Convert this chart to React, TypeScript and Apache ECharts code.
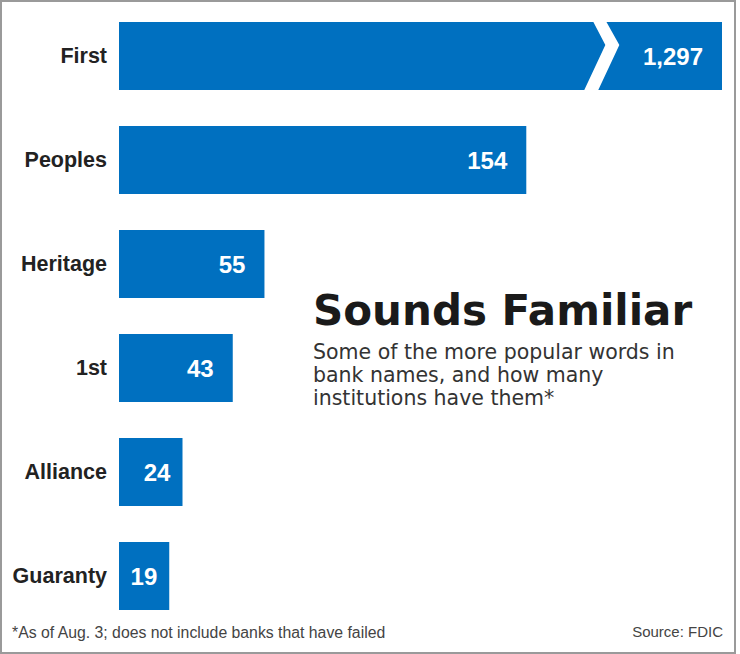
import React, { useEffect, useRef } from "react";
import * as echarts from "echarts";

const CATEGORIES = ["First", "Peoples", "Heritage", "1st", "Alliance", "Guaranty"];
const COUNTS = [1297, 154, 55, 43, 24, 19];
const AXIS_MAX = 228; // visible end of the scale (the First bar is broken)
const BREAK_AT = 182; // value where the First bar is broken
const TITLE = "Sounds Familiar";
const SUBTITLE = "Some of the more popular words in\nbank names, and how many\ninstitutions have them*";
const FOOTNOTE = "*As of Aug. 3; does not include banks that have failed";
const SOURCE = "Source: FDIC";

const BLUE = "#0070c0";
const SANS = "'Liberation Sans', Arial, sans-serif";
const DEJAVU = "'DejaVu Sans', sans-serif";

export default function App() {
  const ref = useRef<HTMLDivElement>(null);

  useEffect(() => {
    document.body.style.margin = "0";
    const chart = echarts.init(ref.current!, null, { renderer: "svg" });
    const option: any = {
      animation: false,
      backgroundColor: "#ffffff",
      grid: {
        left: 119,
        right: 18,
        top: 4,
        bottom: 26,
        containLabel: false,
        outerBoundsMode: "none",
      },
      xAxis: { type: "value", min: 0, max: AXIS_MAX, show: false },
      yAxis: {
        type: "category",
        data: CATEGORIES,
        inverse: true,
        axisLine: { show: false },
        axisTick: { show: false },
        splitLine: { show: false },
        axisLabel: {
          margin: 12,
          fontFamily: SANS,
          fontWeight: "bold",
          fontSize: 21.5,
          color: "#222222",
        },
      },
      series: [
        {
          type: "bar",
          clip: true,
          barCategoryGap: "34.6%",
          itemStyle: { color: BLUE },
          data: COUNTS.map((v) => ({
            value: v,
            label: {
              show: true,
              position: "insideRight",
              distance: v >= 30 ? 19 : 12,
              color: "#ffffff",
              fontFamily: SANS,
              fontWeight: "bold",
              fontSize: 24,
              formatter: (p: any) => Number(p.value).toLocaleString("en-US"),
            },
          })),
        },
        {
          type: "custom",
          silent: true,
          clip: false,
          z: 5,
          data: [[BREAK_AT, 0]],
          renderItem: (params: any, api: any) => {
            const c = api.coord([api.value(0), api.value(1)]);
            const band = api.size([0, 1])[1];
            const h = band * 0.654;
            const top = c[1] - h / 2 - 2;
            const bot = c[1] + h / 2 + 2;
            const peak = c[1] - 0.16 * h;
            const x = c[0];
            return {
              type: "polygon",
              shape: {
                points: [
                  [x - 8, top],
                  [x + 5, top],
                  [x + 19, peak],
                  [x - 3, bot],
                  [x - 17, bot],
                  [x + 5, peak],
                ],
              },
              style: { fill: "#ffffff" },
            };
          },
        },
      ],
      graphic: [
        {
          type: "rect",
          silent: true,
          shape: { x: 1, y: 1, width: 734, height: 652 },
          style: { fill: "none", stroke: "#9a9a9a", lineWidth: 2 },
          z: 100,
        },
        {
          type: "text",
          x: 313,
          y: 289,
          style: {
            text: TITLE,
            fontFamily: DEJAVU,
            fontWeight: "bold",
            fontSize: 42,
            lineHeight: 42,
            fill: "#1a1a1a",
            verticalAlign: "top",
          },
        },
        {
          type: "text",
          x: 313,
          y: 340,
          style: {
            text: SUBTITLE,
            fontFamily: DEJAVU,
            fontSize: 20.5,
            lineHeight: 23.3,
            fill: "#333333",
            verticalAlign: "top",
          },
        },
        {
          type: "text",
          x: 12,
          y: 632,
          style: {
            text: FOOTNOTE,
            fontFamily: SANS,
            fontSize: 15.8,
            fill: "#444444",
            verticalAlign: "middle",
          },
        },
        {
          type: "text",
          x: 723,
          y: 631,
          style: {
            text: SOURCE,
            fontFamily: SANS,
            fontSize: 15,
            fill: "#444444",
            align: "right",
            verticalAlign: "middle",
          },
        },
      ],
    };
    chart.setOption(option);
    return () => chart.dispose();
  }, []);

  return <div ref={ref} style={{ width: 740, height: 654 }} />;
}
